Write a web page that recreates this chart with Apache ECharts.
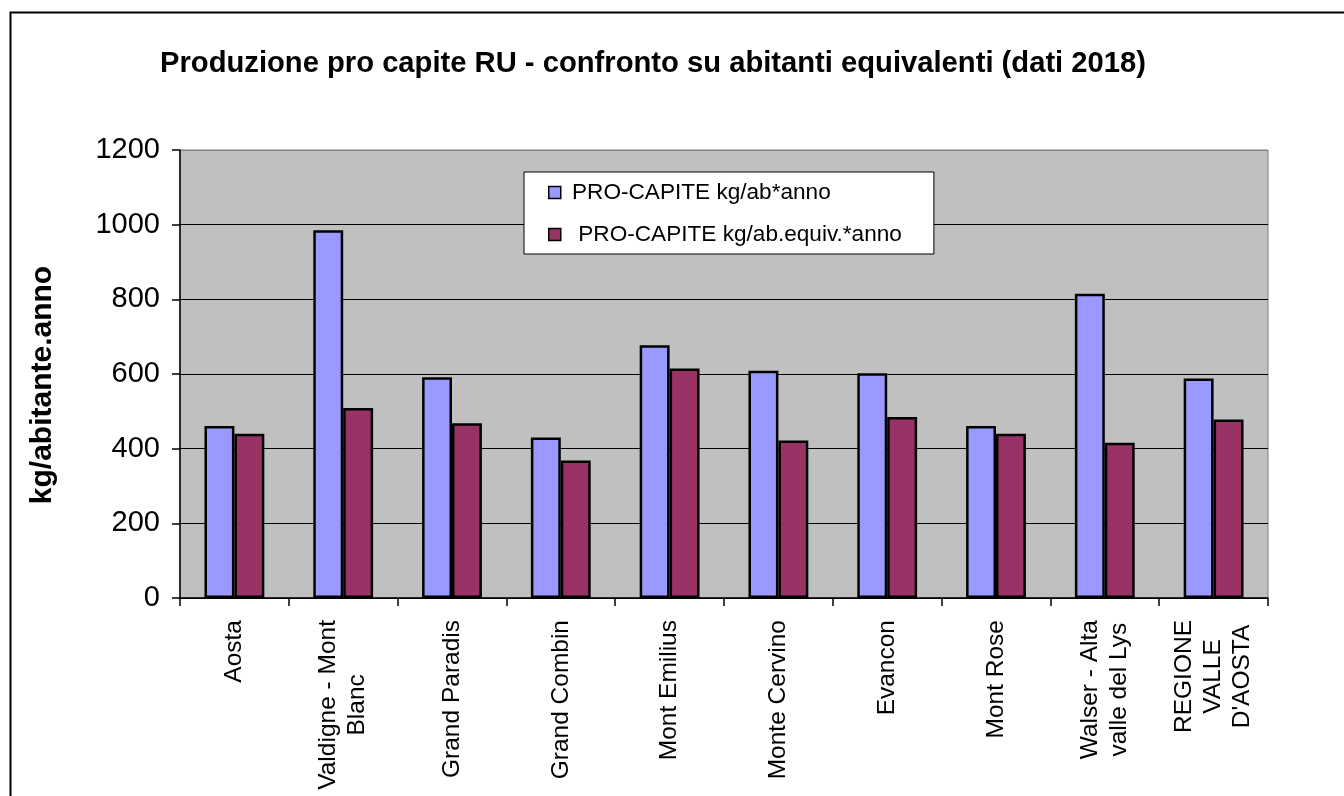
<!DOCTYPE html>
<html>
<head>
<meta charset="utf-8">
<script src="https://cdn.jsdelivr.net/npm/echarts@6/dist/echarts.min.js"></script>
<style>
html,body{margin:0;padding:0;background:#fff;}
#chart{width:1344px;height:796px;}
</style>
</head>
<body>
<div id="chart"></div>
<script>
const categories = ["Aosta", "Valdigne - Mont\nBlanc", "Grand Paradis", "Grand Combin", "Mont Emilius", "Monte Cervino", "Evancon", "Mont Rose", "Walser - Alta\nvalle del Lys", "REGIONE\nVALLE\nD'AOSTA"];
const proCapite = [461, 985, 591, 430, 677, 609, 602, 461, 815, 588];
const proCapiteEquiv = [440, 509, 468, 368, 615, 422, 485, 440, 416, 478];
const seriesNames = [" PRO-CAPITE kg/ab*anno", "  PRO-CAPITE kg/ab.equiv.*anno"];
const titleText = "Produzione pro capite RU - confronto su abitanti equivalenti (dati 2018)";
const yAxisName = "kg/abitante.anno";

const FONT = "Liberation Sans, Arial, sans-serif";
const chart = echarts.init(document.getElementById('chart'));
chart.setOption({
  backgroundColor: '#ffffff',
  animation: false,
  textStyle: { fontFamily: FONT },
  title: {
    text: titleText,
    left: 155,
    top: 44,
    textStyle: { fontSize: 29.2, fontWeight: 'bold', color: '#000', fontFamily: FONT }
  },
  graphic: [{
    type: 'rect',
    left: 8, top: 10,
    shape: { width: 1400, height: 900 },
    style: { fill: 'none', stroke: '#000', lineWidth: 2 },
    silent: true
  }],
  legend: {
    orient: 'vertical',
    left: 524, top: 172,
    backgroundColor: '#fff',
    borderColor: '#000',
    borderWidth: 1,
    padding: [9, 32, 8, 24],
    itemGap: 19,
    itemWidth: 12, itemHeight: 12,
    icon: 'rect',
    itemStyle: { borderColor: '#000', borderWidth: 1.5 },
    textStyle: { fontSize: 22.6, color: '#000', fontFamily: FONT },
    data: seriesNames
  },
  grid: {
    left: 180, right: 76, top: 150, bottom: 198,
    show: true,
    backgroundColor: '#C0C0C0',
    borderColor: '#808080',
    borderWidth: 1
  },
  xAxis: {
    type: 'category',
    data: categories,
    axisLine: { lineStyle: { color: '#000', width: 1.5 } },
    axisTick: { show: true, interval: 0, length: 8, lineStyle: { color: '#000', width: 1.5 } },
    axisLabel: {
      interval: 0, rotate: 90, margin: 22,
      formatter: function (v) { return v.split('\n').map(function (s) { return '{c|' + s + '}'; }).join('\n'); },
      rich: { c: { align: 'center', fontSize: 24.5, lineHeight: 29, color: '#000', fontFamily: FONT } }
    }
  },
  yAxis: {
    type: 'value',
    min: 0, max: 1200, interval: 200,
    name: yAxisName,
    nameLocation: 'middle',
    nameRotate: 90,
    nameGap: 122,
    nameTextStyle: { fontSize: 30, fontWeight: 'bold', color: '#000', fontFamily: FONT, padding: [0, 22, 0, 0] },
    axisLine: { show: true, lineStyle: { color: '#000', width: 1.5 } },
    axisTick: { show: true, length: 8, lineStyle: { color: '#000', width: 1.5 } },
    axisLabel: { fontSize: 29, color: '#000', margin: 20, fontFamily: FONT, formatter: function (v) { return String(v); } },
    splitLine: { show: true, lineStyle: { color: ['#000', '#000', '#000', '#000', '#000', '#000', '#808080'], width: 1.2 } }
  },
  series: [
    {
      name: seriesNames[0], type: 'bar', data: proCapite,
      barGap: '0%', barCategoryGap: '45%',
      itemStyle: { color: '#9999FF', borderColor: '#000', borderWidth: 2.5 }
    },
    {
      name: seriesNames[1], type: 'bar', data: proCapiteEquiv,
      barGap: '0%', barCategoryGap: '45%',
      itemStyle: { color: '#993366', borderColor: '#000', borderWidth: 2.5 }
    }
  ]
});
</script>
</body>
</html>
